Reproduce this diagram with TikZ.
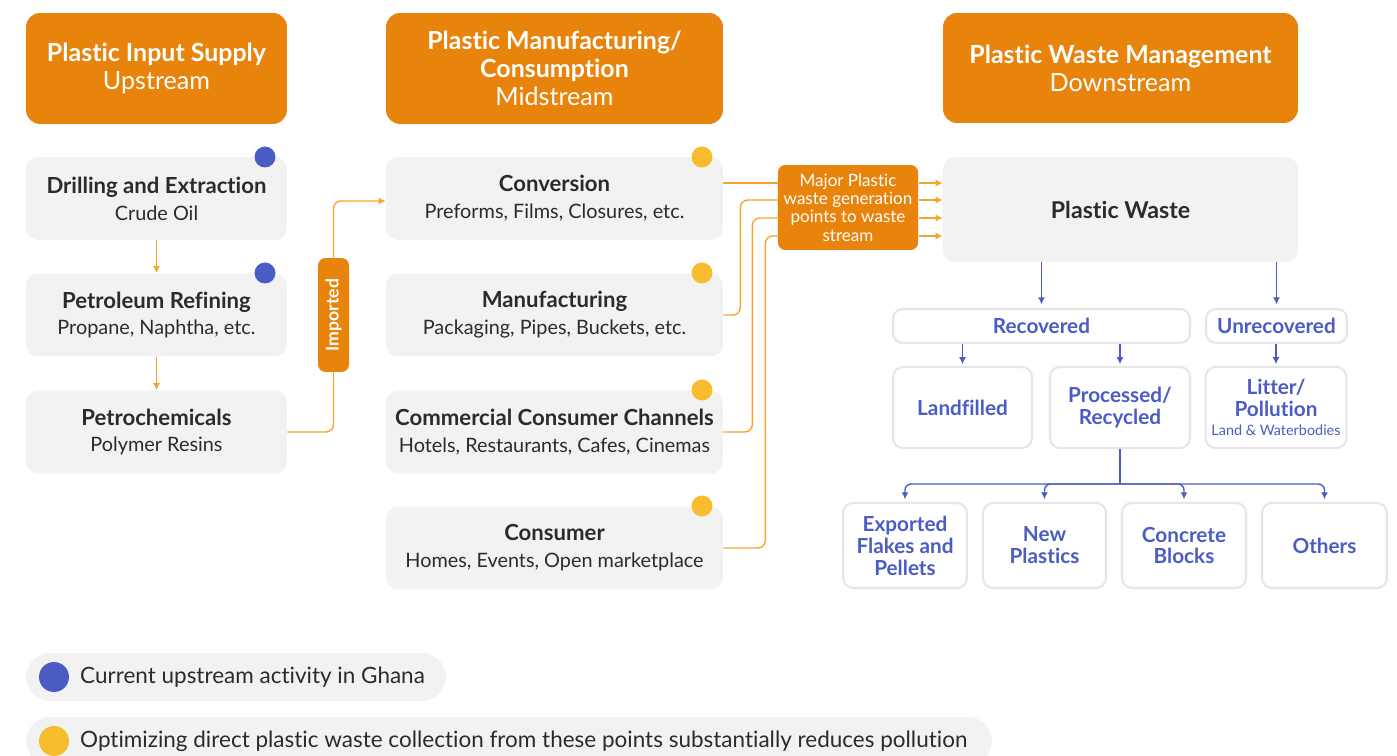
\documentclass[tikz,border=0pt]{standalone}
\usepackage{fontspec}
\setmainfont{Lato}[Ligatures=NoCommon]
\usetikzlibrary{arrows.meta}
\definecolor{hdrorange}{HTML}{E8830C}
\definecolor{lineorange}{HTML}{F4A52C}
\definecolor{boxgray}{HTML}{F2F2F2}
\definecolor{edgegray}{HTML}{E6E6E6}
\definecolor{darktext}{HTML}{2B2B2B}
\definecolor{wblue}{HTML}{4B5CC4}
\definecolor{dotyellow}{HTML}{F8BD2E}
\newcommand{\headbf}[1]{{\bfseries\fontsize{14.2}{16}\selectfont #1}}
\newcommand{\boxbf}[1]{{\bfseries\fontsize{12.6}{15.3}\selectfont #1}}
\begin{document}
\begin{tikzpicture}
  [x=0.02cm,y=-0.02cm,
   hdr/.style={fill=hdrorange,rounded corners=0.28cm,text=white,align=center,
     font=\fontsize{14.3}{16}\selectfont},
   gbox/.style={fill=boxgray,rounded corners=0.24cm,text=darktext,align=center,
     font=\fontsize{11.3}{15.3}\selectfont},
   wbox/.style={draw=edgegray,line width=1.2pt,fill=white,rounded corners=0.2cm,
     text=wblue,align=center,font=\bfseries\fontsize{11.8}{12.5}\selectfont},
   obox/.style={fill=hdrorange,rounded corners=0.15cm,text=white,align=center},
   oline/.style={draw=lineorange,line width=0.8pt,rounded corners=0.15cm},
   bline/.style={draw=wblue,line width=0.8pt,rounded corners=0.12cm},
   tip/.style={-{Latex[length=4pt,width=4pt]}},
   dot/.style={circle,inner sep=0pt,minimum size=0.42cm},
   pill/.style={fill=boxgray,rounded corners=0.48cm,minimum height=0.96cm}]
  \clip (0,0) rectangle (1397,756);

  \node[hdr,minimum width=5.22cm,minimum height=2.22cm] (hup) at (156.5,68.5)
    {\headbf{Plastic Input Supply}\\Upstream};
  \node[hdr,minimum width=6.74cm,minimum height=2.22cm] (hmid) at (554.5,68.5)
    {\headbf{Plastic Manufacturing/}\\\headbf{Consumption}\\Midstream};
  \node[hdr,minimum width=7.10cm,minimum height=2.20cm] (hdown) at (1120.5,68)
    {\headbf{Plastic Waste Management}\\Downstream};

  \node[gbox,minimum width=5.22cm,minimum height=1.66cm] (drill) at (156.5,198.5)
    {\boxbf{Drilling and Extraction}\\Crude Oil};
  \node[gbox,minimum width=5.22cm,minimum height=1.66cm] (refine) at (156.5,315)
    {\boxbf{Petroleum Refining}\\Propane, Naphtha, etc.};
  \node[gbox,minimum width=5.22cm,minimum height=1.66cm] (petro) at (156.5,432)
    {\boxbf{Petrochemicals}\\Polymer Resins};
  \node[dot,fill=wblue] (bdot1) at (265,157) {};
  \node[dot,fill=wblue] (bdot2) at (265,273) {};

  \node[gbox,minimum width=6.74cm,minimum height=1.66cm] (conv) at (554.5,198.5)
    {\boxbf{Conversion}\\Preforms, Films, Closures, etc.};
  \node[gbox,minimum width=6.74cm,minimum height=1.66cm] (manu) at (554.5,315)
    {\boxbf{Manufacturing}\\Packaging, Pipes, Buckets, etc.};
  \node[gbox,minimum width=6.74cm,minimum height=1.66cm] (comm) at (554.5,432)
    {\boxbf{Commercial Consumer Channels}\\Hotels, Restaurants, Cafes, Cinemas};
  \node[gbox,minimum width=6.74cm,minimum height=1.66cm] (cons) at (554.5,548)
    {\boxbf{Consumer}\\Homes, Events, Open marketplace};
  \node[dot,fill=dotyellow] (ydot1) at (702,157) {};
  \node[dot,fill=dotyellow] (ydot2) at (702,273) {};
  \node[dot,fill=dotyellow] (ydot3) at (702,390) {};
  \node[dot,fill=dotyellow] (ydot4) at (702,506) {};

  \node[obox,minimum width=2.28cm,minimum height=0.62cm,rotate=90,
    font=\bfseries\fontsize{10}{11}\selectfont] (imported) at (333.5,315) {Imported};
  \node[obox,minimum width=2.80cm,minimum height=1.70cm,
    font=\fontsize{9.7}{10.4}\selectfont] (major) at (848,207.5)
    {Major Plastic\\waste generation\\points to waste\\stream};
  \node[gbox,minimum width=7.10cm,minimum height=2.10cm,
    font=\bfseries\fontsize{13.2}{15}\selectfont] (waste) at (1120.5,209.5) {Plastic Waste};

  \node[wbox,minimum width=5.94cm,minimum height=0.68cm] (recov) at (1041.5,326) {Recovered};
  \node[wbox,minimum width=2.82cm,minimum height=0.68cm] (unrec) at (1276.5,326) {Unrecovered};
  \node[wbox,minimum width=2.78cm,minimum height=1.62cm] (land) at (962.5,407.5) {Landfilled};
  \node[wbox,minimum width=2.80cm,minimum height=1.62cm] (proc) at (1120,407.5)
    {Processed/\\Recycled};
  \node[wbox,minimum width=2.80cm,minimum height=1.62cm] (litter) at (1276,407.5)
    {Litter/\\Pollution\\[-2pt]{\mdseries\fontsize{8.2}{9}\selectfont Land \& Waterbodies}};
  \node[wbox,minimum width=2.48cm,minimum height=1.70cm] (export) at (905,545.5)
    {Exported\\Flakes and\\Pellets};
  \node[wbox,minimum width=2.46cm,minimum height=1.70cm] (newp) at (1044.5,545.5)
    {New\\Plastics};
  \node[wbox,minimum width=2.48cm,minimum height=1.70cm] (concrete) at (1184,545.5)
    {Concrete\\Blocks};
  \node[wbox,minimum width=2.50cm,minimum height=1.70cm] (others) at (1324.5,545.5) {Others};

  \coordinate (in1) at (778,183);
  \coordinate (in2) at (778,200);
  \coordinate (in3) at (778,218);
  \coordinate (in4) at (778,236);

  \draw[oline,tip] (drill.south) -- (refine.north);
  \draw[oline,tip] (refine.south) -- (petro.north);
  \draw[oline] (petro.east) -| (imported.west);
  \draw[oline,tip] (imported.east) |- ([yshift=-0.05cm]conv.west);
  \draw[oline] (conv.east |- in1) -- (in1);
  \draw[oline] (manu.east) -- ++(17,0) |- (in2);
  \draw[oline] (comm.east) -- ++(29,0) |- (in3);
  \draw[oline] (cons.east) -- ++(42,0) |- (in4);
  \draw[oline,tip] (major.east |- in1) -- (waste.west |- in1);
  \draw[oline,tip] (major.east |- in2) -- (waste.west |- in2);
  \draw[oline,tip] (major.east |- in3) -- (waste.west |- in3);
  \draw[oline,tip] (major.east |- in4) -- (waste.west |- in4);

  \draw[bline,tip,shorten >=2pt] (recov.north |- waste.south) -- (recov.north);
  \draw[bline,tip,shorten >=2pt] (unrec.north |- waste.south) -- (unrec.north);
  \draw[bline,tip,shorten >=1pt] (land.north |- recov.south) -- (land.north);
  \draw[bline,tip,shorten >=1pt] (proc.north |- recov.south) -- (proc.north);
  \draw[bline,tip,shorten >=1pt] (litter.north |- unrec.south) -- (litter.north);
  \draw[bline] (proc.south) -- ++(0,35) coordinate (split);
  \draw[bline,tip,shorten >=1.5pt] (split) -| (export.north);
  \draw[bline,tip,shorten >=1.5pt] (split) -| (newp.north);
  \draw[bline,tip,shorten >=1.5pt] (split) -| (concrete.north);
  \draw[bline,tip,shorten >=1.5pt] (split) -| (others.north);

  \node[pill,minimum width=8.40cm] (leg1) at (236,677) {};
  \node[pill,minimum width=19.32cm] (leg2) at (509,741) {};
  \node[dot,fill=wblue,minimum size=0.6cm] (legdot1) at (54,677) {};
  \node[dot,fill=dotyellow,minimum size=0.6cm] (legdot2) at (54,741) {};
  \node[anchor=west,text=darktext,font=\fontsize{12.8}{14}\selectfont] (legtxt1) at (74,677)
    {Current upstream activity in Ghana};
  \node[anchor=west,text=darktext,font=\fontsize{12.8}{14}\selectfont] (legtxt2) at (74,741)
    {Optimizing direct plastic waste collection from these points substantially reduces pollution};
\end{tikzpicture}
\end{document}
